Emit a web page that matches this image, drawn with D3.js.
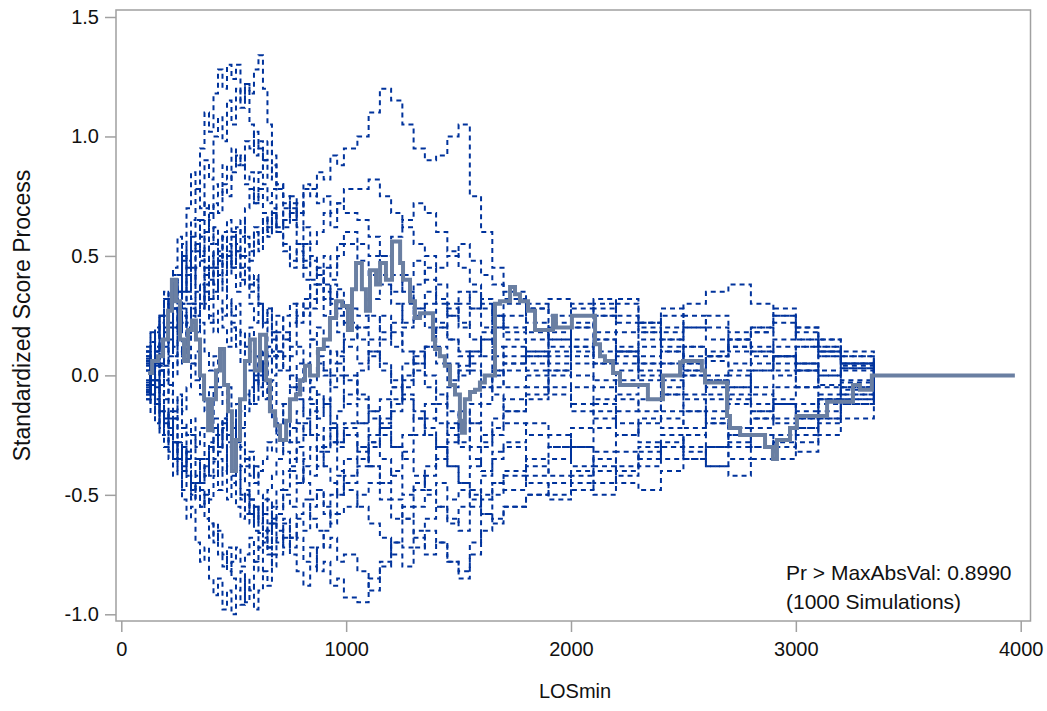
<!DOCTYPE html>
<html>
<head>
<meta charset="utf-8">
<script src="https://cdn.jsdelivr.net/npm/d3@7"></script>
<style>
  body { margin: 0; background: #fff; }
  svg text { font-family: "Liberation Sans", Arial, sans-serif; fill: #111; }
</style>
</head>
<body>
<div id="chart"></div>
<script>
const width = 1047;
const height = 711;

// shared event times (LOSmin) for the simulated paths
const earlyTimes = [110,130,150,170,190,210,230,250,270,290,
  310,330,350,370,390,410,430,450,470,490,
  510,530,550,570,590,610,630,650,670,690,
  720,750,780,810,840,870,900,930,960,990];
const lateTimes = [1050,1100,1150,1200,1250,1300,1350,1400,1450,1500,
  1550,1600,1650,1700,
  1800,1900,2000,2100,2200,2300,2400,2500,2600,2700,
  2800,2900,3000,3100,3200,3347];

// simulated processes, part before LOSmin 1000 (one row per simulation)
const simEarly = [
  [0.08,0.18,0.1,0.25,0.35,0.28,0.45,0.58,0.5,0.7, 0.85,0.78,0.95,1.1,1.02,1.18,1.28,1.2,1.3,1.24, 1.3,1.15,1.22,1.05,0.92,0.98,0.8,0.72,0.78,0.6, 0.52,0.45,0.55,0.4,0.32,0.38,0.25,0.3,0.18,0.12],
  [0.1,-0.05,0.12,0.22,0.15,0.32,0.42,0.35,0.55,0.48, 0.65,0.78,0.7,0.9,0.82,1.0,1.08,0.98,1.15,1.05, 1.2,1.12,1.22,1.18,1.28,1.34,1.2,1.05,0.92,0.78, 0.62,0.7,0.55,0.48,0.4,0.45,0.32,0.38,0.28,0.22],
  [-0.05,0.06,-0.02,0.12,0.05,0.2,0.28,0.18,0.35,0.42, 0.32,0.45,0.52,0.4,0.55,0.62,0.5,0.58,0.45,0.6, 0.52,0.65,0.55,0.48,0.6,0.52,0.66,0.58,0.68,0.6, 0.65,0.72,0.68,0.78,0.75,0.85,0.82,0.92,0.88,0.95],
  [-0.1,-0.02,-0.15,-0.25,-0.18,-0.32,-0.42,-0.35,-0.52,-0.6, -0.55,-0.7,-0.78,-0.72,-0.85,-0.92,-0.85,-0.98,-0.9,-1.0, -0.92,-0.96,-0.85,-0.9,-0.78,-0.82,-0.7,-0.75,-0.62,-0.55, -0.48,-0.4,-0.45,-0.35,-0.3,-0.38,-0.3,-0.22,-0.28,-0.2],
  [0.04,-0.08,-0.02,-0.15,-0.1,-0.22,-0.18,-0.3,-0.38,-0.32, -0.45,-0.52,-0.48,-0.6,-0.68,-0.62,-0.75,-0.8,-0.72,-0.85, -0.9,-0.82,-0.95,-0.88,-0.98,-0.9,-0.82,-0.88,-0.75,-0.68, -0.6,-0.68,-0.58,-0.52,-0.6,-0.65,-0.72,-0.68,-0.78,-0.75],
  [-0.03,0.06,-0.06,0.02,-0.1,-0.04,-0.15,-0.08,-0.2,-0.25, -0.18,-0.3,-0.22,-0.35,-0.42,-0.36,-0.48,-0.4,-0.52,-0.45, -0.55,-0.6,-0.5,-0.62,-0.55,-0.66,-0.58,-0.65,-0.6,-0.7, -0.62,-0.72,-0.68,-0.78,-0.72,-0.82,-0.78,-0.88,-0.85,-0.93],
  [0.1,0.02,0.15,0.25,0.18,0.32,0.4,0.35,0.5,0.45, 0.58,0.52,0.65,0.72,0.68,0.8,0.75,0.88,0.82,0.95, 0.88,0.92,0.8,0.85,0.72,0.78,0.68,0.62,0.7,0.6, 0.55,0.48,0.52,0.45,0.5,0.42,0.38,0.32,0.36,0.28],
  [-0.06,0.04,0.12,0.05,0.2,0.28,0.2,0.35,0.3,0.45, 0.4,0.55,0.5,0.6,0.52,0.45,0.5,0.38,0.32,0.25, 0.3,0.18,0.12,0.2,0.08,0.02,0.1,-0.05,-0.02,-0.12, -0.2,-0.28,-0.2,-0.25,-0.15,-0.08,-0.12,0.0,0.05,-0.02],
  [0.08,-0.03,0.05,0.12,0.04,0.15,0.08,0.2,0.28,0.2, 0.3,0.25,0.38,0.3,0.22,0.35,0.42,0.35,0.5,0.45, 0.52,0.4,0.45,0.35,0.4,0.3,0.22,0.28,0.18,0.25, 0.15,0.08,0.12,0.05,0.15,0.2,0.12,0.05,0.1,0.0],
  [-0.08,0.02,-0.1,-0.04,-0.15,-0.22,-0.15,-0.28,-0.22,-0.35, -0.42,-0.35,-0.45,-0.38,-0.3,-0.22,-0.3,-0.18,-0.25,-0.15, -0.22,-0.3,-0.38,-0.32,-0.45,-0.4,-0.35,-0.28,-0.32,-0.2, -0.12,-0.05,-0.1,-0.18,-0.12,-0.25,-0.32,-0.28,-0.4,-0.48],
  [0.05,0.14,0.06,0.12,0.22,0.15,0.28,0.35,0.3,0.42, 0.5,0.45,0.58,0.52,0.65,0.72,0.68,0.8,0.75,0.85, 0.92,0.88,0.98,0.95,1.02,0.95,0.9,0.98,0.85,0.8, 0.72,0.65,0.72,0.62,0.55,0.6,0.68,0.62,0.72,0.68],
  [-0.04,-0.12,-0.05,-0.15,-0.22,-0.18,-0.28,-0.35,-0.3,-0.4, -0.48,-0.42,-0.55,-0.5,-0.62,-0.7,-0.65,-0.75,-0.82,-0.78, -0.72,-0.8,-0.75,-0.68,-0.78,-0.72,-0.65,-0.72,-0.62,-0.58, -0.5,-0.55,-0.45,-0.38,-0.42,-0.3,-0.22,-0.28,-0.15,-0.08],
  [0.06,-0.02,0.08,0.02,0.12,0.2,0.12,0.18,0.25,0.15, 0.28,0.35,0.28,0.38,0.45,0.38,0.48,0.42,0.52,0.45, 0.55,0.5,0.58,0.52,0.62,0.55,0.65,0.6,0.68,0.62, 0.7,0.75,0.68,0.8,0.78,0.72,0.75,0.68,0.72,0.78],
  [-0.07,-0.02,-0.12,-0.2,-0.15,-0.25,-0.18,-0.1,-0.15,-0.05, 0.05,-0.02,-0.08,-0.15,-0.1,-0.22,-0.3,-0.25,-0.38,-0.45, -0.4,-0.52,-0.48,-0.58,-0.55,-0.62,-0.52,-0.48,-0.42,-0.35, -0.28,-0.22,-0.15,-0.1,-0.02,0.05,0.0,0.1,0.08,0.15],
  [0.12,0.06,0.18,0.25,0.2,0.32,0.4,0.35,0.48,0.42, 0.52,0.55,0.48,0.42,0.5,0.38,0.32,0.25,0.3,0.2, 0.12,0.18,0.05,0.1,-0.02,0.05,-0.1,-0.05,-0.18,-0.25, -0.32,-0.38,-0.3,-0.45,-0.52,-0.48,-0.58,-0.5,-0.42,-0.35],
  [-0.1,-0.02,0.06,-0.04,0.02,-0.08,0.05,0.15,0.08,0.22, 0.3,0.25,0.38,0.45,0.4,0.52,0.48,0.6,0.65,0.58, 0.52,0.45,0.5,0.38,0.42,0.3,0.22,0.28,0.15,0.08, 0.15,0.22,0.3,0.25,0.38,0.45,0.5,0.45,0.55,0.6],
  [0.02,-0.08,-0.02,-0.12,-0.2,-0.15,-0.28,-0.35,-0.3,-0.42, -0.5,-0.45,-0.55,-0.48,-0.52,-0.42,-0.35,-0.4,-0.3,-0.22, -0.28,-0.15,-0.08,-0.12,0.0,-0.05,0.05,0.12,0.08,0.18, 0.25,0.3,0.22,0.28,0.15,0.08,0.02,-0.05,0.0,-0.12],
  [0.05,-0.04,0.1,0.04,0.15,0.08,0.2,0.28,0.22,0.3, 0.25,0.18,0.22,0.1,0.02,0.08,-0.05,-0.12,-0.05,-0.2, -0.28,-0.22,-0.35,-0.42,-0.38,-0.5,-0.58,-0.52,-0.62,-0.65, -0.72,-0.68,-0.6,-0.65,-0.55,-0.48,-0.55,-0.62,-0.58,-0.55],
  [-0.06,0.03,0.1,0.02,0.15,0.22,0.28,0.2,0.25,0.12, 0.05,0.1,-0.02,-0.1,-0.05,-0.18,-0.25,-0.2,-0.35,-0.42, -0.38,-0.5,-0.58,-0.52,-0.65,-0.72,-0.68,-0.62,-0.55,-0.48, -0.4,-0.35,-0.28,-0.2,-0.25,-0.32,-0.38,-0.45,-0.5,-0.45],
  [0.07,-0.02,0.04,-0.08,-0.02,0.06,0.0,0.1,0.05,0.15, 0.22,0.18,0.3,0.38,0.32,0.45,0.52,0.45,0.55,0.5, 0.62,0.58,0.7,0.78,0.72,0.85,0.9,0.82,0.88,0.8, 0.75,0.68,0.62,0.55,0.48,0.42,0.35,0.3,0.25,0.2],
  [0.1,0.18,0.12,0.25,0.32,0.25,0.38,0.3,0.42,0.35, 0.45,0.38,0.28,0.35,0.25,0.18,0.28,0.2,0.12,0.22, 0.15,0.05,0.12,0.02,-0.05,0.05,-0.02,0.08,0.0,0.1, 0.18,0.12,0.25,0.32,0.28,0.38,0.45,0.4,0.5,0.55],
  [-0.08,-0.16,-0.1,-0.22,-0.3,-0.25,-0.35,-0.28,-0.4,-0.32, -0.25,-0.35,-0.45,-0.38,-0.28,-0.35,-0.25,-0.18,-0.28,-0.2, -0.12,-0.22,-0.15,-0.05,-0.12,0.0,-0.08,0.05,0.1,0.02, 0.08,0.0,-0.08,0.02,-0.05,-0.15,-0.1,-0.2,-0.28,-0.22],
  [0.02,0.1,0.2,0.12,0.25,0.35,0.28,0.42,0.5,0.45, 0.58,0.65,0.58,0.7,0.62,0.55,0.48,0.58,0.5,0.42, 0.35,0.45,0.38,0.3,0.22,0.3,0.2,0.12,0.18,0.1, 0.02,-0.05,0.05,-0.02,-0.1,-0.18,-0.12,-0.22,-0.3,-0.25],
  [-0.02,-0.1,-0.2,-0.12,-0.25,-0.35,-0.28,-0.4,-0.48,-0.42, -0.52,-0.45,-0.35,-0.42,-0.32,-0.25,-0.32,-0.22,-0.15,-0.22, -0.3,-0.38,-0.45,-0.52,-0.6,-0.55,-0.65,-0.72,-0.8,-0.75, -0.68,-0.75,-0.82,-0.88,-0.8,-0.72,-0.65,-0.58,-0.5,-0.42]
];

// simulated processes, part from LOSmin 1050 to the last event (same row order)
const simLate = [
  [0.05,0.1,0.02,-0.05,0.0,0.08,0.12,0.05,-0.02,0.04, 0.1,0.15,0.08,0.12, 0.05,0.1,0.0,-0.05,0.02,0.08,0.05,0.12,0.06,0.02, 0.05,0.08,0.02,-0.04,0.03,0],
  [0.2,0.15,0.25,0.18,0.1,0.05,0.12,0.2,0.15,0.08, 0.02,-0.05,0.0,0.05, 0.1,0.18,0.12,0.05,0.1,0.15,0.2,0.12,0.08,0.15, 0.1,0.05,0.12,0.08,0.02,0],
  [1.0,1.1,1.2,1.15,1.05,0.95,0.9,0.92,1.0,1.05, 0.75,0.6,0.45,0.35, 0.3,0.25,0.2,0.28,0.32,0.22,0.15,0.2,0.25,0.18, 0.2,0.28,0.15,0.1,0.05,0],
  [-0.2,-0.15,-0.22,-0.3,-0.25,-0.18,-0.12,-0.2,-0.25,-0.3, -0.35,-0.4,-0.32,-0.28, -0.2,-0.25,-0.3,-0.22,-0.15,-0.1,-0.18,-0.22,-0.15,-0.1, -0.15,-0.2,-0.12,-0.08,-0.05,0],
  [-0.82,-0.9,-0.8,-0.7,-0.6,-0.55,-0.5,-0.45,-0.52,-0.48, -0.5,-0.42,-0.35,-0.3, -0.38,-0.42,-0.48,-0.4,-0.32,-0.38,-0.3,-0.25,-0.2,-0.28, -0.22,-0.18,-0.25,-0.15,-0.1,0],
  [-0.95,-0.85,-0.78,-0.7,-0.72,-0.65,-0.6,-0.55,-0.62,-0.55, -0.48,-0.52,-0.45,-0.4, -0.45,-0.5,-0.42,-0.35,-0.4,-0.32,-0.28,-0.35,-0.3,-0.25, -0.3,-0.35,-0.28,-0.2,-0.12,0],
  [0.25,0.32,0.38,0.3,0.22,0.28,0.35,0.3,0.25,0.2, 0.28,0.32,0.25,0.2, 0.28,0.32,0.25,0.3,0.22,0.18,0.25,0.3,0.35,0.38, 0.3,0.25,0.2,0.15,0.1,0],
  [-0.1,-0.18,-0.25,-0.3,-0.35,-0.42,-0.48,-0.55,-0.6,-0.65, -0.55,-0.5,-0.45,-0.48, -0.42,-0.35,-0.3,-0.38,-0.45,-0.48,-0.4,-0.35,-0.3,-0.35, -0.3,-0.25,-0.22,-0.18,-0.12,0],
  [-0.08,-0.15,-0.1,-0.05,0.05,0.1,0.0,-0.08,-0.15,-0.22, -0.3,-0.25,-0.18,-0.1, -0.05,0.02,0.08,0.15,0.1,0.05,-0.02,-0.08,-0.02,0.05, 0.1,0.15,0.2,0.12,0.05,0],
  [-0.55,-0.62,-0.68,-0.75,-0.8,-0.72,-0.65,-0.7,-0.78,-0.85, -0.75,-0.65,-0.6,-0.55, -0.5,-0.45,-0.4,-0.45,-0.38,-0.3,-0.25,-0.32,-0.38,-0.3, -0.25,-0.3,-0.22,-0.18,-0.1,0],
  [0.65,0.58,0.5,0.42,0.35,0.28,0.2,0.12,0.05,0.0, 0.08,0.15,0.2,0.25, 0.18,0.12,0.2,0.25,0.3,0.22,0.15,0.08,0.0,-0.05, 0.02,0.08,0.05,0.0,0.03,0],
  [0.02,0.1,0.05,-0.02,-0.1,-0.18,-0.25,-0.3,-0.38,-0.45, -0.52,-0.58,-0.62,-0.55, -0.5,-0.52,-0.45,-0.5,-0.42,-0.35,-0.3,-0.25,-0.3,-0.22, -0.18,-0.12,-0.15,-0.1,-0.06,0],
  [0.78,0.82,0.75,0.68,0.62,0.55,0.5,0.45,0.5,0.55, 0.48,0.42,0.38,0.32, 0.28,0.22,0.3,0.25,0.18,0.22,0.28,0.2,0.15,0.1, 0.12,0.08,0.12,0.15,0.08,0],
  [0.2,0.25,0.18,0.12,0.2,0.25,0.3,0.22,0.15,0.1, 0.05,0.0,-0.08,-0.15, -0.1,-0.05,-0.12,-0.18,-0.25,-0.2,-0.15,-0.1,-0.18,-0.22, -0.15,-0.1,-0.05,-0.12,-0.08,0],
  [-0.3,-0.38,-0.45,-0.4,-0.32,-0.25,-0.18,-0.12,-0.05,0.02, 0.1,0.18,0.25,0.3, 0.22,0.15,0.1,0.05,0.12,0.18,0.1,0.02,-0.05,0.0, -0.08,-0.12,-0.18,-0.1,-0.05,0],
  [0.55,0.5,0.42,0.35,0.42,0.48,0.4,0.32,0.25,0.3, 0.35,0.28,0.2,0.15, 0.08,0.02,-0.05,-0.12,-0.2,-0.28,-0.35,-0.3,-0.38,-0.42, -0.35,-0.28,-0.32,-0.25,-0.18,0],
  [-0.2,-0.28,-0.35,-0.42,-0.5,-0.45,-0.38,-0.3,-0.22,-0.15, -0.2,-0.28,-0.22,-0.15, -0.08,0.0,0.05,-0.02,-0.1,-0.15,-0.08,0.0,0.08,0.12, 0.18,0.22,0.15,0.1,0.05,0],
  [-0.5,-0.45,-0.52,-0.6,-0.55,-0.48,-0.42,-0.35,-0.28,-0.2, -0.12,-0.05,0.02,0.08, 0.15,0.2,0.28,0.32,0.25,0.2,0.12,0.05,0.1,0.15, 0.08,0.02,-0.05,0.0,-0.03,0],
  [-0.38,-0.3,-0.22,-0.15,-0.08,-0.15,-0.22,-0.3,-0.38,-0.45, -0.38,-0.3,-0.25,-0.2, -0.25,-0.3,-0.22,-0.15,-0.08,-0.02,0.05,0.0,-0.08,-0.12, -0.05,0.0,0.05,0.02,-0.02,0],
  [0.15,0.08,0.15,0.22,0.3,0.38,0.45,0.38,0.3,0.22, 0.15,0.08,0.02,-0.05, 0.02,0.08,0.15,0.1,0.05,0.12,0.18,0.25,0.2,0.12, 0.18,0.12,0.05,0.1,0.05,0],
  [0.48,0.42,0.5,0.58,0.65,0.72,0.68,0.6,0.52,0.45, 0.38,0.3,0.25,0.18, 0.1,0.05,0.12,0.18,0.1,0.02,-0.05,0.02,0.08,0.15, 0.2,0.25,0.18,0.12,0.08,0],
  [-0.3,-0.38,-0.45,-0.52,-0.6,-0.68,-0.75,-0.7,-0.78,-0.82, -0.7,-0.58,-0.5,-0.42, -0.35,-0.3,-0.38,-0.32,-0.25,-0.18,-0.22,-0.15,-0.2,-0.25, -0.18,-0.12,-0.18,-0.1,-0.05,0],
  [-0.32,-0.25,-0.18,-0.1,-0.02,0.05,0.12,0.2,0.28,0.35, 0.28,0.2,0.12,0.05, 0.0,-0.08,-0.15,-0.1,-0.02,0.05,0.1,0.05,-0.02,-0.08, -0.12,-0.05,0.02,0.08,0.04,0],
  [-0.35,-0.28,-0.2,-0.12,-0.05,0.02,-0.05,-0.12,-0.2,-0.28, -0.2,-0.12,-0.05,0.02, 0.08,0.15,0.22,0.15,0.08,0.0,-0.08,-0.15,-0.1,-0.05, 0.02,0.08,0.02,-0.05,-0.08,0]
];

// observed standardized score process (step after each x)
const obsX = [119,137,163,185,208,225,243,261,279,297,314,332,350,368,386,403,421,439,457,475,
  492,510,528,550,572,594,617,644,661,684,706,733,750,777,795,817,839,875,901,928,
  955,982,1008,1026,1044,1070,1088,1106,1133,1151,1177,1204,1240,1253,1284,1306,1328,1386,1395,1417,
  1439,1462,1484,1506,1515,1528,1551,1573,1595,1617,1662,1684,1729,1751,1773,1809,1840,1920,1933,2004,
  2107,2129,2151,2187,2218,2342,2409,2485,2498,2582,2596,2694,2707,2752,2863,2898,2916,2974,3005,3139,
  3254,3285,3338,3974];
const obsY = [0.01,0.06,0.08,0.15,0.27,0.40,0.31,0.15,0.06,0.19,0.23,0.15,0.0,-0.10,-0.23,-0.10,0.02,0.11,-0.04,-0.15,
  -0.40,-0.27,-0.10,0.06,0.15,0.02,0.17,-0.02,-0.15,-0.21,-0.27,-0.19,-0.10,-0.08,-0.02,0.04,0.0,0.11,0.15,0.24,
  0.31,0.29,0.19,0.36,0.47,0.36,0.27,0.44,0.38,0.47,0.40,0.56,0.47,0.40,0.31,0.24,0.26,0.15,0.11,0.08,
  0.04,-0.04,-0.08,-0.19,-0.24,-0.10,-0.07,-0.06,-0.03,0.0,0.30,0.31,0.37,0.34,0.31,0.27,0.19,0.25,0.20,0.25,
  0.13,0.08,0.06,0.01,-0.04,-0.10,0.0,0.055,0.06,0.02,-0.03,-0.17,-0.22,-0.25,-0.30,-0.35,-0.27,-0.22,-0.17,-0.11,
  -0.04,-0.06,0.0,0.0];

const xTicks = [0, 1000, 2000, 3000, 4000];
const yTicks = [-1.0, -0.5, 0.0, 0.5, 1.0, 1.5];

const svg = d3.select("#chart")
  .append("svg")
  .attr("width", width)
  .attr("height", height);

// frame of the plot area
const frame = { left: 116, top: 10, right: 1030.5, bottom: 621 };

const x = d3.scaleLinear()
  .domain([0, 4000])
  .range([121.3, 1020.7]);

const y = d3.scaleLinear()
  .domain([-1, 1.5])
  .range([614.3, 17]);

const stepLine = d3.line()
  .x(d => x(d[0]))
  .y(d => y(d[1]))
  .curve(d3.curveStepAfter);

const simTimes = earlyTimes.concat(lateTimes);
const simulations = simEarly.map((row, i) => row.concat(simLate[i]));

svg.selectAll("path.sim")
  .data(simulations)
  .enter()
  .append("path")
  .attr("class", "sim")
  .attr("d", vals => stepLine(vals.map((v, i) => [simTimes[i], v])))
  .attr("fill", "none")
  .attr("stroke", "#00339c")
  .attr("stroke-width", 2)
  .attr("stroke-dasharray", "5,4");

svg.append("path")
  .attr("d", stepLine(obsX.map((v, i) => [v, obsY[i]])))
  .attr("fill", "none")
  .attr("stroke", "#6a7fa2")
  .attr("stroke-width", 4);

svg.append("rect")
  .attr("x", frame.left)
  .attr("y", frame.top)
  .attr("width", frame.right - frame.left)
  .attr("height", frame.bottom - frame.top)
  .attr("fill", "none")
  .attr("stroke", "#a0a0a0")
  .attr("stroke-width", 1.5);

const fmtY = d => d3.format(".1f")(d).replace("\u2212", "-");

// x axis
const xAxis = svg.append("g")
  .attr("transform", `translate(0,${frame.bottom})`)
  .call(d3.axisBottom(x).tickValues(xTicks).tickSize(11).tickPadding(10).tickFormat(d3.format("d")));
xAxis.select(".domain").remove();
xAxis.selectAll("line").attr("stroke", "#a0a0a0").attr("stroke-width", 1.5);
xAxis.selectAll("text").attr("font-size", 20).attr("fill", "#111")
  .attr("font-family", "Liberation Sans, Arial, sans-serif");

// y axis
const yAxis = svg.append("g")
  .attr("transform", `translate(${frame.left},0)`)
  .call(d3.axisLeft(y).tickValues(yTicks).tickSize(11).tickPadding(6).tickFormat(fmtY));
yAxis.select(".domain").remove();
yAxis.selectAll("line").attr("stroke", "#a0a0a0").attr("stroke-width", 1.5);
yAxis.selectAll("text").attr("font-size", 20).attr("fill", "#111")
  .attr("font-family", "Liberation Sans, Arial, sans-serif");

svg.append("text")
  .attr("x", 575)
  .attr("y", 698)
  .attr("text-anchor", "middle")
  .attr("font-size", 20)
  .text("LOSmin");

svg.append("text")
  .attr("transform", `translate(30,${(frame.top + frame.bottom) / 2}) rotate(-90)`)
  .attr("text-anchor", "middle")
  .attr("font-size", 23)
  .text("Standardized Score Process");

svg.append("text")
  .attr("x", 786)
  .attr("y", 580)
  .attr("font-size", 21)
  .text("Pr > MaxAbsVal: 0.8990");

svg.append("text")
  .attr("x", 786)
  .attr("y", 609)
  .attr("font-size", 21)
  .text("(1000 Simulations)");
</script>
</body>
</html>
